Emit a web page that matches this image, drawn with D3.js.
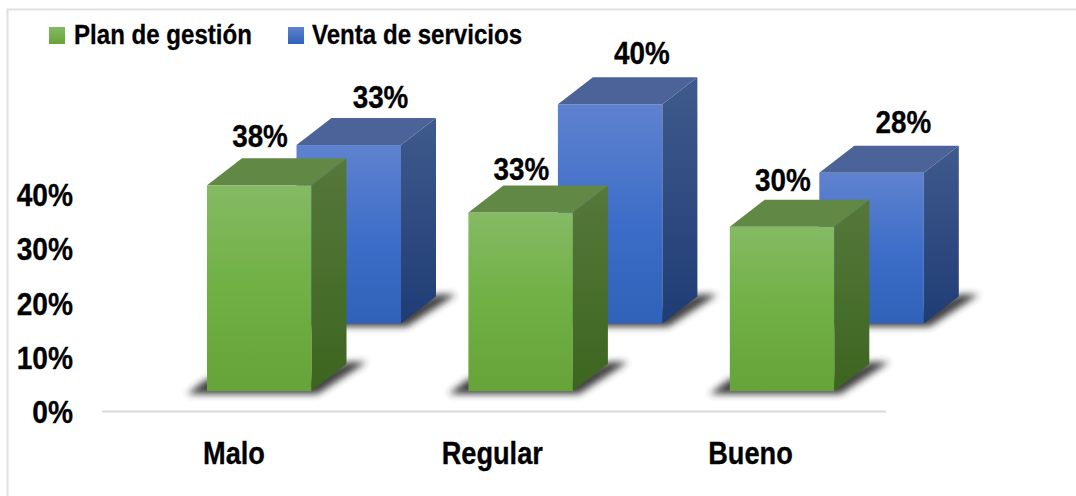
<!DOCTYPE html>
<html><head><meta charset="utf-8">
<script src="https://cdnjs.cloudflare.com/ajax/libs/d3/7.8.5/d3.min.js"></script>
<style>html,body{margin:0;padding:0;background:#fff}svg{display:block}
text{font-family:"Liberation Sans","Arial",sans-serif;font-weight:700;fill:#000;stroke:#000;stroke-width:.3px}</style>
</head><body><svg id="c" width="1076" height="496"></svg>
<script>
const categories = ["Malo","Regular","Bueno"];
const seriesNames = ["Venta de servicios","Plan de gestión"];
const planGestion = [37.8,32.8,30.2];
const ventaServicios = [32.8,40.3,27.7];
const yTicks = [0,10,20,30,40];

const svg = d3.select("#c");
const defs = svg.append("defs");
const grad=(id,stops)=>{const g=defs.append("linearGradient").attr("id",id).attr("x1",0).attr("y1",0).attr("x2",0).attr("y2",1);
  stops.forEach(([o,c])=>g.append("stop").attr("offset",o).attr("stop-color",c));};
grad("gFront",[[0,"#85ba64"],[0.5,"#70b044"],[1,"#66a338"]]);
grad("bFront",[[0,"#5f82cf"],[0.55,"#3c6dc8"],[1,"#2f62b8"]]);
grad("gSide",[[0,"#56783b"],[1,"#3c651f"]]);
grad("bSide",[[0,"#3f5a8c"],[1,"#1f3c75"]]);
grad("gLeg",[[0,"#85ba64"],[1,"#66a338"]]);
grad("bLeg",[[0,"#5f82cf"],[1,"#2f62b8"]]);
defs.append("filter").attr("id","blur").attr("x","-30%").attr("y","-50%").attr("width","160%").attr("height","200%")
  .append("feGaussianBlur").attr("stdDeviation",3.5);

// narrow bold type: horizontally condensed real text
const narrow = (sel,px,py,sx=0.85)=>sel.attr("transform",(d,i)=>`translate(${px(d,i)},${py(d,i)}) scale(${sx},1)`);

// frame: only left and top edges are visible
svg.append("path").attr("d","M7.5,496 V9.5 H1076").attr("fill","none").attr("stroke","#e0e0e0").attr("stroke-width",2);

const x = d3.scaleBand().domain(categories).range([207,991.2]);
const barW = 104.5, dx = 35, dy = 27;
const y = d3.scaleLinear().domain([0,40]).range([0,217.6]);

function drawBars(values, baseY, offX, labelDx, labelGaps, front, side, top){
  const groups = svg.append("g").selectAll("g").data(categories.map((c,i)=>({c,v:values[i],gap:labelGaps[i]}))).join("g")
    .attr("transform",d=>`translate(${x(d.c)+offX},${baseY})`);
  groups.append("path").attr("filter","url(#blur)").attr("fill","#2a2a2a").attr("opacity",0.9)
    .attr("d",`M-20,3 L0,-12 L${barW},-12 L${barW+dx},-29 L${barW+dx+20},-29 L${barW+6},3 Z`);
  groups.append("rect").attr("width",barW)
    .attr("y",d=>-y(d.v)).attr("height",d=>y(d.v)).attr("fill",`url(#${front})`);
  groups.append("path").attr("fill",`url(#${side})`)
    .attr("d",d=>`M${barW},${-y(d.v)} L${barW+dx},${-y(d.v)-dy} L${barW+dx},${-dy} L${barW},0 Z`);
  groups.append("path").attr("fill",top)
    .attr("d",d=>`M0,${-y(d.v)} L${dx},${-y(d.v)-dy} L${barW+dx},${-y(d.v)-dy} L${barW},${-y(d.v)} Z`);
  groups.append("text").attr("text-anchor","middle").attr("font-size",32)
    .call(narrow,()=>labelDx,d=>-y(d.v)-d.gap,0.87)
    .text(d=>Math.round(d.v)+"%");
}
drawBars(ventaServicios,323.5,89.5,84,[37,40,40],"bFront","bSide","#4b6398");
drawBars(planGestion,391,0,53,[38,33,36],"gFront","gSide","#628846");

// axis
svg.append("line").attr("x1",102).attr("x2",886).attr("y1",411.5).attr("y2",411.5).attr("stroke","#d9d9d9").attr("stroke-width",2);
const yAxis = d3.scaleLinear().domain([0,40]).range([423,206]);
svg.append("g").selectAll("text").data(yTicks).join("text")
  .attr("text-anchor","end").attr("font-size",32)
  .call(narrow,()=>73,d=>yAxis(d),0.88).text(d=>d+"%");
const xLabel = d3.scalePoint().domain(categories).range([234,750.5]);
svg.append("g").selectAll("text").data(categories).join("text")
  .attr("text-anchor","middle").attr("font-size",32)
  .call(narrow,d=>xLabel(d),()=>464).text(d=>d);

// legend
const legend=[{n:seriesNames[1],f:"gLeg",x:49,tx:74},{n:seriesNames[0],f:"bLeg",x:288,tx:312}];
svg.append("g").selectAll("rect").data(legend).join("rect")
  .attr("x",d=>d.x).attr("y",27).attr("width",16).attr("height",17).attr("fill",d=>`url(#${d.f})`);
svg.append("g").selectAll("text").data(legend).join("text")
  .attr("font-size",28).call(narrow,d=>d.tx,()=>44,0.86).text(d=>d.n);
</script></body></html>
